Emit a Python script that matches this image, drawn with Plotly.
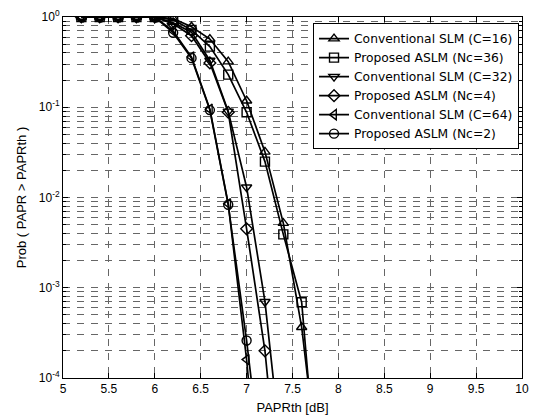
import plotly.graph_objects as go

# PAPR threshold values (dB)
papr_x = [5.2, 5.4, 5.6, 5.8, 6.0, 6.2, 6.4, 6.6, 6.8, 7.0, 7.2, 7.4, 7.6, 7.8]

# CCDF values
conv_c16 = [1, 1, 1, 1, 1, 0.96, 0.78, 0.57, 0.32, 0.118, 0.032, 0.0052, 3.65e-4, 6.8e-6]
prop_nc36 = [1, 1, 1, 1, 1, 0.93, 0.72, 0.47, 0.23, 0.088, 0.025, 0.0039, 6.9e-4, 2.8e-6]
conv_c32 = [1, 1, 1, 1, 1, 0.86, 0.68, 0.33, 0.09, 0.013, 7e-4, 9.3e-6]
prop_nc4 = [1, 1, 1, 1, 1, 0.84, 0.62, 0.31, 0.088, 0.0045, 2.0e-4, 1.7e-6]
conv_c64 = [1, 1, 1, 1, 1, 0.70, 0.36, 0.095, 0.0085, 1.6e-4, 1e-6]
prop_nc2 = [1, 1, 1, 1, 1, 0.67, 0.35, 0.093, 0.0083, 2.6e-4, 5e-6]

series = [
    ("Conventional SLM (C=16)", conv_c16, "triangle-up-open"),
    ("Proposed ASLM (Nc=36)", prop_nc36, "square-open"),
    ("Conventional SLM (C=32)", conv_c32, "triangle-down-open"),
    ("Proposed ASLM (Nc=4)", prop_nc4, "diamond-open"),
    ("Conventional SLM (C=64)", conv_c64, "triangle-left-open"),
    ("Proposed ASLM (Nc=2)", prop_nc2, "circle-open"),
]

x_ticks = [5, 5.5, 6, 6.5, 7, 7.5, 8, 8.5, 9, 9.5, 10]
x_ticktext = ["5", "5.5", "6", "6.5", "7", "7.5", "8", "8.5", "9", "9.5", "10"]
y_ticks = [1e-4, 1e-3, 1e-2, 1e-1, 1]
y_ticktext = ["10<sup>-4</sup>", "10<sup>-3</sup>", "10<sup>-2</sup>", "10<sup>-1</sup>", "10<sup>0</sup>"]
y_minor = [m * 10.0 ** e for e in range(-4, 0) for m in range(2, 10)]

fig = go.Figure()
for name, vals, sym in series:
    fig.add_trace(go.Scatter(
        x=papr_x[:len(vals)], y=vals, name=name, mode="lines+markers",
        line=dict(color="black", width=1.7),
        marker=dict(symbol=sym, size=9, color="black", line=dict(width=1.4, color="black")),
        cliponaxis=True,
    ))

grid_col = "#666666"
dash = "7px,7px"
font = "Liberation Sans, Arial, sans-serif"

fig.update_layout(
    width=538, height=418,
    margin=dict(l=55, r=24, t=9, b=48),
    paper_bgcolor="white", plot_bgcolor="white",
    font=dict(family=font, size=12, color="black"),
    showlegend=True,
    legend=dict(
        x=0.9935, y=0.983, xanchor="right", yanchor="top",
        bgcolor="white", bordercolor="black", borderwidth=1,
        font=dict(family="DejaVu Sans, sans-serif", size=12.3, color="black"),
        tracegroupgap=0, itemwidth=30,
    ),
    xaxis=dict(
        range=[5, 10], tickmode="array", tickvals=x_ticks, ticktext=x_ticktext,
        ticks="inside", ticklen=5, tickcolor="black", mirror="allticks",
        showline=True, linecolor="black", linewidth=1,
        showgrid=True, gridcolor=grid_col, gridwidth=1, griddash=dash,
        zeroline=False, automargin=False,
        title=dict(text="PAPRth [dB]", font=dict(size=13), standoff=7),
        tickfont=dict(size=12),
    ),
    yaxis=dict(
        type="log", range=[-4, 0], tickmode="array", tickvals=y_ticks, ticktext=y_ticktext,
        ticks="inside", ticklen=5, tickcolor="black", mirror="allticks",
        showline=True, linecolor="black", linewidth=1,
        showgrid=True, gridcolor=grid_col, gridwidth=1, griddash=dash,
        minor=dict(tickmode="array", tickvals=y_minor, ticks="inside", ticklen=3,
                   tickcolor="black", showgrid=True, gridcolor=grid_col,
                   gridwidth=1, griddash=dash),
        zeroline=False, automargin=False,
        title=dict(text="Prob ( PAPR &gt; PAPRth )", font=dict(size=13), standoff=9),
        tickfont=dict(size=12),
    ),
)

fig.write_html("out.html")
